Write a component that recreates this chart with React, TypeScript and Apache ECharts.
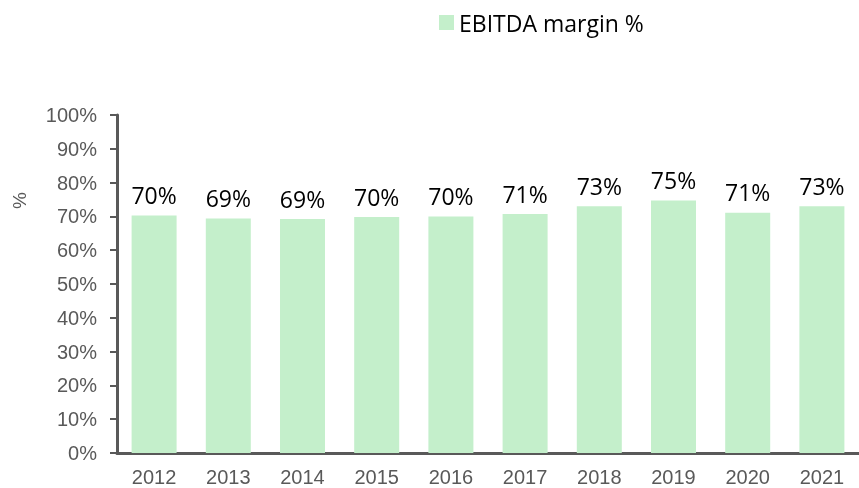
import React, { useEffect, useRef } from "react";
import * as echarts from "echarts";

const categories = ["2012", "2013", "2014", "2015", "2016", "2017", "2018", "2019", "2020", "2021"];
const ebitdaMargin = [70.3, 69.4, 69.2, 69.8, 70.0, 70.7, 73.0, 74.7, 71.1, 73.0];
const yTicks = { min: 0, max: 100, interval: 10 };

export default function App() {
  const ref = useRef<HTMLDivElement>(null);
  useEffect(() => {
    document.body.style.margin = "0";
    const chart = echarts.init(ref.current!, null, { renderer: "svg" });
    chart.setOption({
      animation: false,
      legend: {
        top: 6,
        left: 434,
        itemWidth: 15,
        itemHeight: 15,
        itemGap: 8,
        icon: "rect",
        textStyle: { fontFamily: "Open Sans", fontSize: 23, color: "#000" },
        data: ["EBITDA margin %"],
      },
      grid: { left: 117, top: 115, width: 750, height: 338 },
      graphic: [
        {
          type: "text",
          x: 10,
          y: 209,
          rotation: Math.PI / 2,
          style: { text: "%", fontFamily: "Liberation Sans", fontSize: 19, fill: "#595959" },
        },
      ],
      xAxis: {
        type: "category",
        data: categories,
        axisLine: { lineStyle: { color: "#595959", width: 3 } },
        axisTick: { show: false },
        axisLabel: { color: "#595959", fontFamily: "Liberation Sans", fontSize: 20, margin: 14 },
      },
      yAxis: {
        type: "value",
        min: yTicks.min,
        max: yTicks.max,
        interval: yTicks.interval,
        splitLine: { show: false },
        axisLine: { show: true, lineStyle: { color: "#595959", width: 3 } },
        axisTick: { show: true, length: 7, lineStyle: { color: "#595959", width: 2 } },
        axisLabel: {
          color: "#595959",
          fontFamily: "Liberation Sans",
          fontSize: 20,
          margin: 20,
          formatter: "{value}%",
        },
      },
      series: [
        {
          name: "EBITDA margin %",
          type: "bar",
          data: ebitdaMargin,
          barWidth: 45,
          itemStyle: { color: "#C4EFCB" },
          label: {
            show: true,
            position: "top",
            distance: 9,
            color: "#000",
            fontFamily: "Open Sans",
            fontSize: 23,
            formatter: (p: any) => Math.round(p.value) + "%",
          },
        },
      ],
    });
    return () => chart.dispose();
  }, []);
  return <div ref={ref} style={{ position: "fixed", left: 0, top: 0, width: 859, height: 488 }} />;
}
